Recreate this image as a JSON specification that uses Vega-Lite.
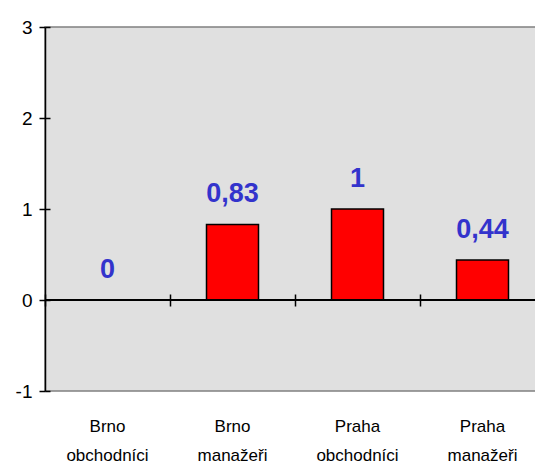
{
  "$schema": "https://vega.github.io/schema/vega-lite/v6.json",
  "autosize": "none",
  "width": 500,
  "height": 364,
  "padding": {"left": 45, "top": 27, "right": 0, "bottom": 75},
  "background": "white",
  "title": {
    "text": "(počet)",
    "color": "red",
    "font": "Liberation Sans",
    "fontSize": 24,
    "fontWeight": "bold",
    "baseline": "alphabetic",
    "offset": 27,
    "dx": 21
  },
  "config": {
    "locale": {"number": {"decimal": ",", "thousands": " ", "grouping": [3], "currency": ["", " Kč"], "minus": "-"}},
    "view": {"fill": "#E0E0E0", "stroke": "#808080", "strokeWidth": 1.5},
    "axis": {"labelFont": "Liberation Sans", "labelColor": "black", "tickColor": "black", "domainColor": "black", "grid": false, "title": null}
  },
  "data": {
    "values": [
      {"kategorie": "Brno obchodníci", "hodnota": 0},
      {"kategorie": "Brno manažeři", "hodnota": 0.83},
      {"kategorie": "Praha obchodníci", "hodnota": 1},
      {"kategorie": "Praha manažeři", "hodnota": 0.44}
    ]
  },
  "resolve": {"axis": {"x": "independent", "y": "independent"}},
  "layer": [
    {
      "mark": {"type": "bar", "fill": "red", "stroke": "black", "strokeWidth": 1.5, "size": 52},
      "encoding": {
        "x": {
          "field": "kategorie", "type": "nominal", "sort": null,
          "scale": {"paddingInner": 0, "paddingOuter": 0},
          "axis": {
            "orient": "bottom", "domain": false, "ticks": false, "labelAngle": 0,
            "labelFontSize": 17, "labelPadding": 40, "labelLineHeight": 29,
            "labelExpr": "split(datum.label, ' ')", "labelBaseline": "alphabetic"
          }
        },
        "y": {
          "field": "hodnota", "type": "quantitative",
          "scale": {"domain": [-1, 3], "nice": false, "zero": false},
          "axis": {
            "orient": "left", "values": [-1, 0, 1, 2, 3], "domainWidth": 1.5, "tickWidth": 1.5,
            "tickSize": 6, "labelFontSize": 19, "labelPadding": 7, "format": "d"
          }
        }
      }
    },
    {
      "mark": {"type": "text", "color": "#3333CC", "font": "Liberation Sans", "fontWeight": "bold", "fontSize": 27, "baseline": "alphabetic", "dy": -22},
      "encoding": {
        "x": {
          "field": "kategorie", "type": "nominal", "sort": null,
          "axis": {
            "orient": "top", "offset": -279, "domain": false, "labels": false,
            "tickBand": "extent", "tickSize": 12, "tickWidth": 1.5
          }
        },
        "y": {
          "field": "hodnota", "type": "quantitative",
          "axis": {
            "orient": "right", "offset": -500, "domain": false, "labels": false,
            "values": [-1, 0, 1, 2, 3], "tickSize": 5, "tickWidth": 1.5
          }
        },
        "text": {"field": "hodnota", "type": "quantitative", "format": ".2~f"}
      }
    },
    {
      "mark": {"type": "rule", "color": "black", "strokeWidth": 1.5},
      "encoding": {"y": {"datum": 0, "type": "quantitative", "axis": null}}
    }
  ]
}
